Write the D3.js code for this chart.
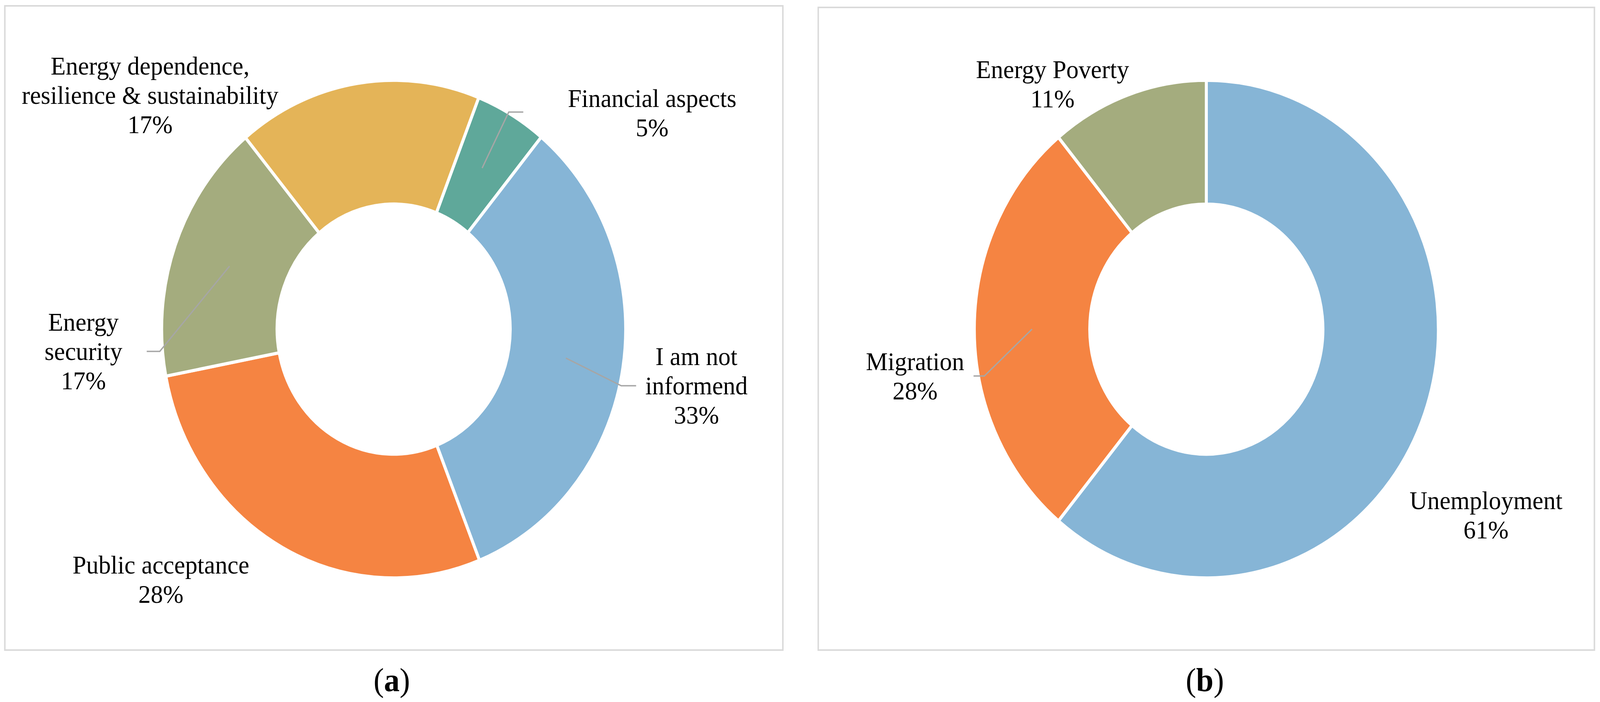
<!DOCTYPE html>
<html>
<head>
<meta charset="utf-8">
<script src="https://cdn.jsdelivr.net/npm/d3@7"></script>
<style>
  html, body { margin: 0; padding: 0; background: #fff; overflow: hidden; }
  #chart-container svg { display: block; }
  text { font-family: "Liberation Serif", "Times New Roman", serif; }
</style>
</head>
<body>
<div id="chart-container"></div>
<script>
// two doughnut charts (a) and (b), Excel-style labels

const catsA = ["Financial aspects", "I am not informend", "Public acceptance", "Energy security", "Energy dependence, resilience & sustainability"];
const valsA = [5, 33, 28, 17, 17];
const linesA = [["Financial aspects"], ["I am not", "informend"], ["Public acceptance"], ["Energy", "security"], ["Energy dependence,", "resilience & sustainability"]];

const catsB = ["Unemployment", "Migration", "Energy Poverty"];
const valsB = [61, 28, 11];
const linesB = [["Unemployment"], ["Migration"], ["Energy Poverty"]];

const colorsA = ["#5fa89a", "#86b5d6", "#f58442", "#a4ac7e", "#e4b458"];
const colorsB = ["#86b5d6", "#f58442", "#a4ac7e"];

const svgWidth = 4296;
const svgHeight = 1798;
const outerR = 619;
const innerR = 317;
const gap = 8;          // white separator between slices
const stretch = 1.023;  // picture is slightly taller than wide

// label placement (centre x, first baseline) and optional leader elbow/end
const layoutA = [
    { x: 1751, y: 274, elbow: [1366, 287], end: [1405, 287] },
    { x: 1870, y: 935, elbow: [1668, 988], end: [1708, 988] },
    { x: 432, y: 1469 },
    { x: 224, y: 847, elbow: [429, 900], end: [394, 900] },
    { x: 403, y: 191 }
];
const layoutB = [
    { x: 3990, y: 1304 },
    { x: 2457, y: 948, elbow: [2643, 963], end: [2614, 963] },
    { x: 2826, y: 200 }
];

// fit the drawing to the window whatever its pixel ratio
const svg = d3.select("#chart-container")
    .append("svg")
    .attr("viewBox", `0 0 ${svgWidth} ${svgHeight}`)
    .attr("preserveAspectRatio", "none")
    .style("width", "100vw")
    .style("height", "100vh");

function drawPanel(opt) {
    const g = svg.append("g");

    g.append("rect")
        .attr("x", opt.box[0])
        .attr("y", opt.box[1])
        .attr("width", opt.box[2])
        .attr("height", opt.box[3])
        .attr("fill", "none")
        .attr("stroke", "#dadada")
        .attr("stroke-width", 4);

    const pie = d3.pie()
        .sort(null)
        .value(d => d)
        .startAngle(opt.start * Math.PI / 180)
        .endAngle(opt.start * Math.PI / 180 + 2 * Math.PI);

    const arcs = pie(opt.values);

    const arc = d3.arc()
        .innerRadius(innerR - gap / 2)
        .outerRadius(outerR + gap / 2);

    const mid = d3.arc()
        .innerRadius(innerR)
        .outerRadius(outerR);

    g.append("g")
        .attr("transform", `translate(${opt.cx},${opt.cy}) scale(1,${stretch})`)
        .selectAll("path")
        .data(arcs)
        .enter()
        .append("path")
        .attr("d", arc)
        .attr("fill", (d, i) => opt.colors[i])
        .attr("stroke", "#fff")
        .attr("stroke-width", gap)
        .attr("stroke-linejoin", "miter");

    // leader lines from slice centroid to label
    arcs.forEach(function(d, i) {
        const L = opt.layout[i];
        if (!L.elbow) return;
        const c = mid.centroid(d);
        const p0 = [opt.cx + c[0], opt.cy + c[1] * stretch];
        g.append("polyline")
            .attr("points", [p0, L.elbow, L.end].map(p => p.join(",")).join(" "))
            .attr("fill", "none")
            .attr("stroke", "#a6a6a6")
            .attr("stroke-width", 3.5);
    });

    // labels
    arcs.forEach(function(d, i) {
        const L = opt.layout[i];
        const rows = opt.lines[i].concat([d.data + "%"]);
        const t = g.append("text")
            .attr("text-anchor", "middle")
            .attr("font-size", "66px")
            .attr("fill", "#000");
        rows.forEach(function(r, k) {
            t.append("tspan")
                .attr("x", L.x)
                .attr("y", L.y + k * 75)
                .text(r);
        });
    });

    const cap = g.append("text")
        .attr("x", opt.capX)
        .attr("y", 1770)
        .attr("text-anchor", "middle")
        .attr("font-size", "84px")
        .attr("fill", "#000");
    cap.append("tspan").text("(");
    cap.append("tspan").attr("font-weight", "bold").text(opt.letter);
    cap.append("tspan").text(")");
}

drawPanel({
    box: [13, 15, 2089, 1650],
    cx: 1057, cy: 843, start: 21.5,
    values: valsA, colors: colorsA, lines: linesA, layout: layoutA,
    capX: 1052, letter: "a"
});

drawPanel({
    box: [2197, 19, 2084, 1646],
    cx: 3239, cy: 843, start: 0,
    values: valsB, colors: colorsB, lines: linesB, layout: layoutB,
    capX: 3235, letter: "b"
});
</script>
</body>
</html>
